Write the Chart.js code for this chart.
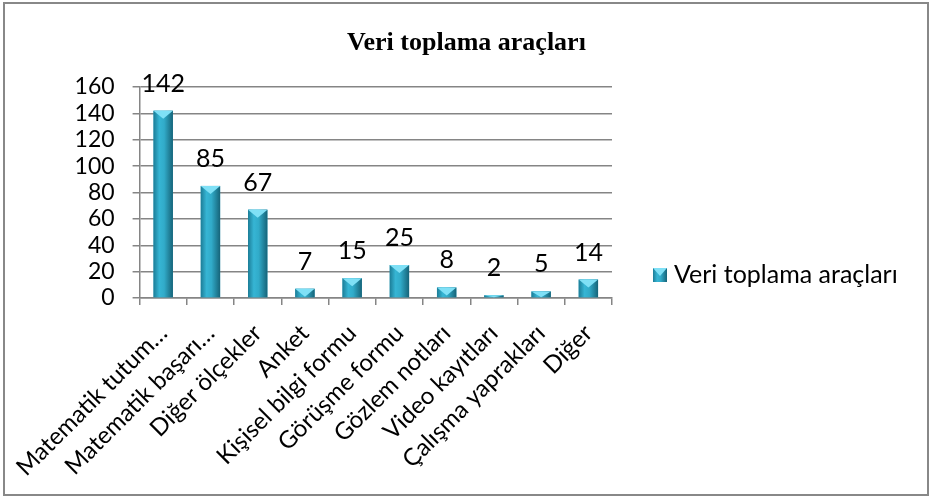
<!DOCTYPE html>
<html lang="tr">
<head>
<meta charset="utf-8">
<title>Veri toplama araçları</title>
<script src="https://cdn.jsdelivr.net/npm/chart.js@4.4.0/dist/chart.umd.min.js"></script>
<style>
    html, body { margin: 0; padding: 0; background: #fff; }
    #wrap { width: 933px; height: 498px; position: relative; }
</style>
</head>
<body>
<div id="wrap"><canvas id="chart" width="933" height="498"></canvas></div>
<script>
const categories = [
    'Matematik tutum…',
    'Matematik başarı…',
    'Diğer ölçekler',
    'Anket',
    'Kişisel bilgi formu',
    'Görüşme formu',
    'Gözlem notları',
    'Video kayıtları',
    'Çalışma yaprakları',
    'Diğer'
];
const counts = [142, 85, 67, 7, 15, 25, 8, 2, 5, 14];
const yMin = 0;
const yMax = 160;
const yStep = 20;
const seriesName = 'Veri toplama araçları';

const GRID = '#858585';
const FONT = 'Lato, "Noto Sans", sans-serif';

// cylinder-like shading across the bar width
function barGradient(ctx, left, right) {
    const g = ctx.createLinearGradient(left, 0, right, 0);
    g.addColorStop(0, '#1c7d97');
    g.addColorStop(0.3, '#36b5d4');
    g.addColorStop(0.55, '#31abc9');
    g.addColorStop(1, '#166479');
    return g;
}

function drawBar(ctx, left, right, top, bottom) {
    ctx.fillStyle = barGradient(ctx, left, right);
    ctx.fillRect(left, top, right - left, bottom - top);
    // light pyramid cap on top
    const h = Math.min(8, bottom - top);
    const mid = (left + right) / 2;
    ctx.fillStyle = '#7fe0f6';
    ctx.beginPath();
    ctx.moveTo(left, top);
    ctx.lineTo(right, top);
    ctx.lineTo(mid, top + h);
    ctx.closePath();
    ctx.fill();
}

const shadedBars = {
    id: 'shadedBars',
    afterDatasetsDraw(chart) {
        const ctx = chart.ctx;
        const meta = chart.getDatasetMeta(0);
        ctx.save();
        meta.data.forEach((bar, i) => {
            const half = bar.width / 2;
            drawBar(ctx, bar.x - half, bar.x + half, bar.y, bar.base);
            ctx.fillStyle = '#000';
            ctx.font = '25px ' + FONT;
            ctx.textAlign = 'center';
            ctx.textBaseline = 'alphabetic';
            ctx.fillText(String(counts[i]), bar.x, bar.y - 19);
        });
        ctx.restore();
    }
};

// title centred on the whole frame, legend at the right, outer border
const frame = {
    id: 'frame',
    afterDraw(chart) {
        const ctx = chart.ctx;
        ctx.save();
        ctx.fillStyle = '#000';
        ctx.font = 'bold 26px "Liberation Serif", "DejaVu Serif", serif';
        ctx.textAlign = 'center';
        ctx.textBaseline = 'middle';
        ctx.fillText(seriesName, chart.width / 2, 43);

        const x = 653, y = 268, s = 14;
        drawBar(ctx, x, x + s, y, y + s);
        ctx.fillStyle = '#000';
        ctx.font = '25px ' + FONT;
        ctx.textAlign = 'left';
        ctx.fillText(chart.data.datasets[0].label, x + s + 7, y + s / 2);

        ctx.strokeStyle = '#888';
        ctx.lineWidth = 2;
        ctx.strokeRect(4, 3, 924, 492);
        ctx.restore();
    }
};

new Chart(document.getElementById('chart'), {
    type: 'bar',
    data: {
        labels: categories,
        datasets: [{
            label: seriesName,
            data: counts,
            backgroundColor: '#2ea3c1',
            barPercentage: 0.41,
            categoryPercentage: 1
        }]
    },
    options: {
        responsive: false,
        animation: false,
        layout: { padding: { left: 0, right: 321, top: 87, bottom: 0 } },
        plugins: {
            legend: { display: false },
            tooltip: { enabled: false },
            title: { display: false }
        },
        scales: {
            x: {
                grid: {
                    display: true,
                    offset: true,
                    drawOnChartArea: false,
                    drawTicks: true,
                    tickLength: 7,
                    color: GRID,
                    lineWidth: 1.5
                },
                border: { display: true, color: GRID, width: 1.5 },
                ticks: {
                    autoSkip: false,
                    minRotation: 45,
                    maxRotation: 45,
                    color: '#000',
                    padding: 14,
                    font: { family: FONT, size: 24 }
                },
                afterFit(scale) { scale.height = 200; }
            },
            y: {
                min: yMin,
                max: yMax,
                grid: {
                    color: GRID,
                    lineWidth: 1.5,
                    tickLength: 7
                },
                border: { display: true, color: GRID, width: 1.5 },
                ticks: {
                    stepSize: yStep,
                    autoSkip: false,
                    color: '#000',
                    padding: 18,
                    font: { family: FONT, size: 23 }
                },
                afterFit(scale) { scale.width = 138; }
            }
        }
    },
    plugins: [shadedBars, frame]
});
</script>
</body>
</html>
